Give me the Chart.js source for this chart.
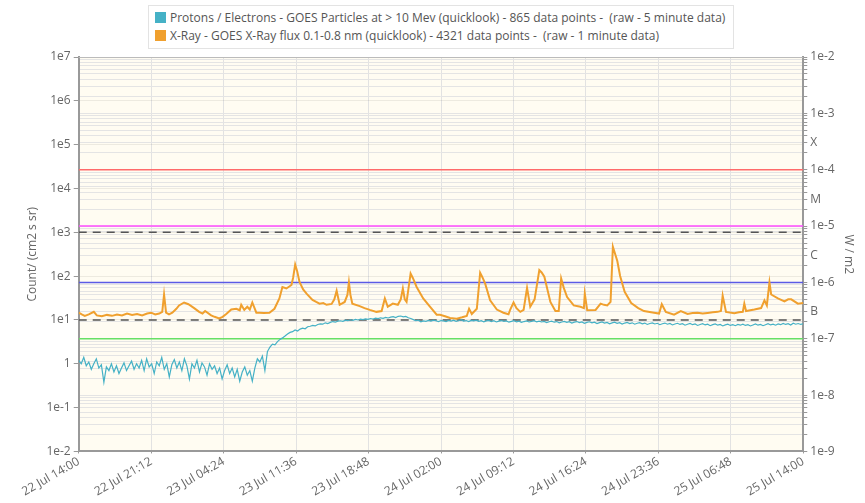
<!DOCTYPE html>
<html>
<head>
<meta charset="utf-8">
<script src="https://cdn.jsdelivr.net/npm/chart.js@4.4.1/dist/chart.umd.min.js"></script>
<style>
  html, body { margin: 0; padding: 0; background: #fff; }
  #wrap { position: relative; width: 865px; height: 503px; }
  #legend {
    position: absolute; top: 5px; left: 148px;
    border: 1px solid #e3e3e3; background: #fff;
    padding: 3px 8px 3px 6px;
    font: 12px "Open Sans", sans-serif; color: #555; line-height: 18px;
  }
  #legend .item { white-space: pre; }
  #legend .swatch {
    display: inline-block; width: 11px; height: 11px;
    margin-right: 4px; vertical-align: -1px;
  }
</style>
</head>
<body>
<div id="wrap">
  <canvas id="goesChart"></canvas>
  <div id="legend"></div>
</div>
<script>
// Time axis: hours after 22 Jul 14:00, ticks every 7h12m
const timeTickLabels = ['22 Jul 14:00', '22 Jul 21:12', '23 Jul 04:24', '23 Jul 11:36', '23 Jul 18:48',
  '24 Jul 02:00', '24 Jul 09:12', '24 Jul 16:24', '24 Jul 23:36', '25 Jul 06:48', '25 Jul 14:00'];
const tickStepHours = 7.2;
const spanHours = 72;

const seriesLabels = [
  'Protons / Electrons - GOES Particles at > 10 Mev (quicklook) - 865 data points -  (raw - 5 minute data)',
  'X-Ray - GOES X-Ray flux 0.1-0.8 nm (quicklook) - 4321 data points -  (raw - 1 minute data)'
];
const seriesColors = ['#45b1c6', '#f0a02e'];

// >10 MeV protons, one value every 15 minutes (counts / cm2 s sr)
const protonStepHours = 0.25;
const protonFlux = [
  1.2, 1.0, 1.4, 0.9, 1.1, 0.75, 1.0, 1.3, 0.8, 0.95, 0.38, 0.85,
  0.7, 1.0, 0.65, 0.9, 0.6, 0.8, 1.05, 0.7, 0.9, 1.15, 0.75, 1.0,
  0.8, 1.2, 0.7, 1.3, 0.85, 1.0, 0.6, 1.1, 0.9, 1.4, 0.75, 1.0,
  0.5, 0.95, 1.25, 0.8, 1.1, 0.7, 1.3, 0.9, 0.45, 1.0, 0.8, 1.2,
  0.65, 1.05, 0.85, 0.55, 1.0, 0.75, 0.9, 0.6, 0.8, 0.45, 0.7, 0.95,
  0.6, 0.8, 0.5, 0.75, 0.4, 0.65, 0.85, 0.55, 0.7, 0.4, 0.8, 1.3,
  1.1, 1.5, 0.7, 1.9, 2.4, 2.8, 2.7, 3.2, 3.6, 3.9, 4.3, 4.8,
  5.2, 5.4, 5.9, 5.6, 6.2, 6.5, 6.3, 7.0, 7.2, 7.5, 7.3, 7.9,
  8.1, 8.0, 8.6, 8.3, 8.8, 9.2, 8.9, 9.4, 9.6, 9.3, 9.9, 9.7,
  10.1, 9.8, 10.3, 10.0, 10.4, 10.2, 10.6, 10.3, 10.8, 10.5, 11.0, 10.7,
  11.2, 10.9, 11.4, 11.1, 11.6, 11.9, 11.3, 12.1, 12.3, 11.8, 12.0, 11.2,
  10.8, 10.2, 9.6, 9.9, 9.1, 9.5, 9.3, 9.8, 9.4, 9.9, 9.6, 9.2,
  9.7, 9.5, 9.2, 9.8, 9.4, 9.9, 9.3, 9.6, 10.1, 9.4, 9.7, 9.2,
  9.8, 9.5, 9.9, 9.3, 9.6, 9.1, 9.5, 9.8, 9.2, 9.6, 9.0, 9.4,
  9.7, 9.3, 9.5, 8.9, 9.3, 9.6, 9.1, 9.4, 8.8, 9.2, 9.5, 9.0,
  9.3, 9.6, 9.1, 9.4, 9.0, 9.3, 8.7, 9.1, 9.4, 8.9, 9.2, 8.6,
  9.0, 9.3, 8.8, 9.1, 8.5, 8.9, 9.2, 8.7, 9.0, 8.4, 8.8, 9.1,
  8.6, 8.9, 8.3, 8.7, 9.0, 8.5, 8.8, 8.2, 8.6, 8.9, 8.4, 8.7,
  8.1, 8.5, 8.8, 8.3, 8.6, 8.0, 8.4, 8.7, 8.2, 8.5, 7.9, 8.3,
  8.6, 8.1, 8.4, 7.8, 8.2, 8.5, 8.0, 8.3, 7.7, 8.1, 8.4, 7.9,
  8.2, 7.6, 8.0, 8.3, 7.8, 8.1, 7.5, 7.9, 8.2, 7.7, 8.0, 7.4,
  7.8, 8.1, 7.6, 7.9, 7.3, 7.7, 8.0, 7.5, 7.8, 7.4, 7.9, 7.6,
  8.0, 7.5, 7.8, 7.3, 7.7, 8.1, 7.6, 7.9, 7.4, 7.8, 8.2, 7.7,
  8.0, 7.6, 8.1, 7.8, 8.3, 7.9, 8.2, 7.7, 8.4, 8.0, 8.3, 7.9,
  8.2
];

// 0.1-0.8 nm X-ray flux (W/m2) with the hour it was read at
const xrayHours = [
  0, 0.3, 0.6, 1.0, 1.5, 1.8, 2.3, 2.8, 3.3, 3.8, 4.3, 4.8,
  5.3, 5.8, 6.3, 6.8, 7.2, 7.6, 8.0, 8.3, 8.48, 8.68, 8.97, 9.3,
  9.7, 9.97, 10.47, 10.9, 11.47, 11.97, 12.3, 12.56, 13.16, 13.5, 13.96, 14.3,
  14.66, 15.16, 15.66, 16.0, 16.15, 16.45, 16.75, 17.0, 17.25, 17.65, 17.95, 18.4,
  18.95, 19.45, 19.94, 20.24, 20.64, 21.14, 21.3, 21.51, 21.7, 21.94, 22.3, 22.64,
  23.23, 23.6, 23.93, 24.3, 24.63, 25.13, 25.4, 25.63, 25.93, 26.43, 26.7, 26.85,
  27.0, 27.19, 27.92, 28.4, 28.92, 29.59, 30.1, 30.42, 30.71, 31.21, 31.71, 32.0,
  32.21, 32.4, 32.58, 32.98, 33.2, 33.58, 34.23, 34.9, 35.57, 35.9, 36.4, 36.9,
  37.56, 38.1, 38.56, 38.79, 39.06, 39.56, 39.89, 40.1, 40.39, 40.88, 41.55, 42.2,
  42.71, 42.88, 43.21, 43.5, 43.88, 44.21, 44.55, 44.87, 45.3, 45.77, 46.0, 46.27,
  46.87, 47.37, 47.7, 47.94, 48.2, 48.53, 49.19, 49.86, 50.2, 50.29, 50.53, 51.36,
  51.86, 52.2, 52.52, 52.85, 53.08, 53.52, 53.8, 54.25, 54.9, 55.6, 56.17, 57.17,
  57.67, 57.94, 58.34, 59.16, 59.83, 60.5, 61.0, 61.5, 62.0, 62.49, 63.0, 63.49,
  63.82, 63.99, 64.32, 65.15, 65.6, 65.99, 66.14, 66.31, 67.14, 67.81, 68.14, 68.38,
  68.64, 68.81, 69.48, 70.13, 70.5, 70.8, 71.47, 72.0
];
const xrayFlux = [
  2.9e-7, 2.7e-7, 2.55e-7, 2.7e-7, 3.0e-7, 2.6e-7, 2.5e-7, 2.65e-7, 2.55e-7, 2.7e-7, 2.6e-7, 2.8e-7,
  2.65e-7, 2.75e-7, 2.6e-7, 2.8e-7, 2.9e-7, 2.7e-7, 2.8e-7, 3.0e-7, 6.1e-7, 2.9e-7, 2.7e-7, 2.9e-7,
  3.4e-7, 3.9e-7, 4.4e-7, 4.1e-7, 3.5e-7, 3.0e-7, 2.8e-7, 3.1e-7, 2.6e-7, 2.45e-7, 2.3e-7, 2.45e-7,
  2.75e-7, 3.3e-7, 3.4e-7, 3.2e-7, 4.0e-7, 3.25e-7, 3.7e-7, 3.3e-7, 4.4e-7, 2.9e-7, 2.9e-7, 2.85e-7,
  2.9e-7, 3.4e-7, 5.2e-7, 8.3e-7, 7.8e-7, 9.0e-7, 1.2e-6, 2.08e-6, 1.6e-6, 1.02e-6, 7.5e-7, 6.3e-7,
  4.9e-7, 4.5e-7, 4.2e-7, 4.3e-7, 4.0e-7, 4.15e-7, 5.0e-7, 7.1e-7, 4.0e-7, 4.5e-7, 6.0e-7, 1.0e-6,
  6.0e-7, 4.2e-7, 3.8e-7, 3.5e-7, 3.25e-7, 3.0e-7, 3.1e-7, 5.2e-7, 3.7e-7, 4.2e-7, 4.0e-7, 5.0e-7,
  7.8e-7, 5.0e-7, 4.5e-7, 1.44e-6, 1.2e-6, 8.3e-7, 5.2e-7, 3.7e-7, 2.67e-7, 2.67e-7, 2.5e-7, 2.34e-7,
  2.27e-7, 2.4e-7, 2.54e-7, 3.4e-7, 2.75e-7, 3.4e-7, 1.48e-6, 1.25e-6, 9.5e-7, 4.8e-7, 3.3e-7, 2.9e-7,
  2.72e-7, 3.3e-7, 4.4e-7, 3.5e-7, 3.0e-7, 3.25e-7, 8.0e-7, 3.7e-7, 5.0e-7, 1.65e-6, 1.5e-6, 1.26e-6,
  4.5e-7, 3.1e-7, 3.1e-7, 1.17e-6, 8.0e-7, 5.5e-7, 3.9e-7, 3.7e-7, 3.5e-7, 6.3e-7, 3.2e-7, 3.25e-7,
  4.2e-7, 4.0e-7, 3.9e-7, 4.5e-7, 4.3e-6, 2.4e-6, 1.3e-6, 6.8e-7, 4.3e-7, 3.5e-7, 3.1e-7, 2.9e-7,
  2.8e-7, 4.1e-7, 3.0e-7, 2.67e-7, 3.1e-7, 2.75e-7, 2.85e-7, 2.9e-7, 2.8e-7, 2.87e-7, 2.95e-7, 3.0e-7,
  3.1e-7, 5.8e-7, 3.0e-7, 2.83e-7, 2.95e-7, 3.0e-7, 4.2e-7, 3.1e-7, 3.3e-7, 3.5e-7, 4.8e-7, 3.9e-7,
  1.0e-6, 6.1e-7, 5.2e-7, 4.6e-7, 5.0e-7, 5.0e-7, 4.2e-7, 4.3e-7
];

// Flare class thresholds on the W/m2 axis (X, M, C, B) and proton levels
const flareLevels = [1e-4, 1e-5, 1e-6, 1e-7];
const flareLevelColors = ['#ff6a6a', '#ff4dff', '#5a5ae6', '#66e066'];
const flareClassLetters = { '-4': 'X', '-5': 'M', '-6': 'C', '-7': 'B' };
const protonLevels = [1e3, 1e1];

function decadeLabel(v) {
  const e = Math.round(Math.log10(v));
  return e === 0 ? '1' : '1e' + e;
}

function flatLine(level) {
  return [{ x: 0, y: level }, { x: spanHours, y: level }];
}

const datasets = [
  {
    label: seriesLabels[0],
    data: protonFlux.map((v, i) => ({ x: i * protonStepHours, y: v })),
    yAxisID: 'y',
    borderColor: seriesColors[0],
    borderWidth: 1.2,
    pointRadius: 0,
    order: 0
  },
  {
    label: seriesLabels[1],
    data: xrayHours.map((h, i) => ({ x: h, y: xrayFlux[i] })),
    yAxisID: 'y1',
    borderColor: seriesColors[1],
    borderWidth: 2,
    pointRadius: 0,
    order: 0
  }
];
flareLevels.forEach((lvl, i) => datasets.push({
  data: flatLine(lvl), yAxisID: 'y1', borderColor: flareLevelColors[i],
  borderWidth: 1.5, pointRadius: 0, order: 2
}));
protonLevels.forEach(lvl => datasets.push({
  data: flatLine(lvl), yAxisID: 'y', borderColor: '#555', borderDash: [8, 6],
  borderWidth: 1.5, pointRadius: 0, order: 1
}));

// legend box above the plot
const legendEl = document.getElementById('legend');
seriesLabels.forEach((txt, i) => {
  const row = document.createElement('div');
  row.className = 'item';
  row.innerHTML = '<span class="swatch" style="background:' + seriesColors[i] + '"></span>';
  row.appendChild(document.createTextNode(txt));
  legendEl.appendChild(row);
});

const plotFrame = {
  id: 'plotFrame',
  beforeDraw(chart) {
    const { ctx, chartArea: a } = chart;
    ctx.save();
    ctx.fillStyle = '#fffcf2';
    ctx.fillRect(a.left, a.top, a.right - a.left, a.bottom - a.top);
    ctx.restore();
  },
  afterDraw(chart) {
    const { ctx, chartArea: a } = chart;
    ctx.save();
    ctx.strokeStyle = '#bbb';
    ctx.lineWidth = 1;
    ctx.beginPath();
    ctx.moveTo(a.left, a.top + 0.5);
    ctx.lineTo(a.right, a.top + 0.5);
    ctx.stroke();
    ctx.restore();
  }
};

Chart.defaults.font.family = '"Open Sans", sans-serif';
Chart.defaults.font.size = 12;
Chart.defaults.color = '#666';

new Chart(document.getElementById('goesChart'), {
  type: 'line',
  data: { datasets: datasets },
  plugins: [plotFrame],
  options: {
    responsive: true,
    maintainAspectRatio: false,
    animation: false,
    layout: { padding: { top: 57, left: 21, right: 5, bottom: 3 } },
    plugins: {
      legend: { display: false },
      tooltip: { enabled: false }
    },
    scales: {
      x: {
        type: 'linear',
        min: 0,
        max: spanHours,
        afterBuildTicks: axis => {
          axis.ticks = timeTickLabels.map((_, i) => ({ value: i * tickStepHours }));
        },
        ticks: {
          autoSkip: false,
          maxRotation: 30,
          minRotation: 30,
          padding: 1,
          callback: (v, i) => timeTickLabels[i]
        },
        grid: { color: '#e2e2e2', tickLength: 2, tickColor: '#999' },
        border: { color: '#999', width: 2 }
      },
      y: {
        type: 'logarithmic',
        position: 'left',
        min: 1e-2,
        max: 1e7,
        afterBuildTicks: axis => {
          const t = [];
          for (let e = -2; e <= 7; e++) t.push({ value: Math.pow(10, e) });
          axis.ticks = t;
        },
        ticks: { autoSkip: false, callback: v => decadeLabel(v) },
        grid: { color: 'rgba(0,0,0,0.07)', tickLength: 5, tickColor: '#999' },
        border: { color: '#999', width: 2 },
        title: { display: true, text: 'Count/ (cm2 s sr)', color: '#666' }
      },
      y1: {
        type: 'logarithmic',
        position: 'right',
        min: 1e-9,
        max: 1e-2,
        afterBuildTicks: axis => {
          const t = [];
          for (let e = -9; e <= -3; e++) {
            for (let m = 1; m <= 9; m++) t.push({ value: m * Math.pow(10, e) });
          }
          t.push({ value: 1e-2 });
          axis.ticks = t;
        },
        ticks: {
          autoSkip: false,
          callback: v => {
            const e = Math.floor(Math.log10(v) + 1e-9);
            const m = Math.round(v / Math.pow(10, e));
            if (m === 1) return decadeLabel(v);
            if (m === 3 && flareClassLetters[e]) return flareClassLetters[e];
            return '';
          }
        },
        grid: { color: '#e4e4e4', tickLength: 4, tickColor: '#999' },
        border: { color: '#999', width: 2 },
        title: { display: true, text: 'W / m2', color: '#666' }
      }
    }
  }
});
</script>
</body>
</html>
